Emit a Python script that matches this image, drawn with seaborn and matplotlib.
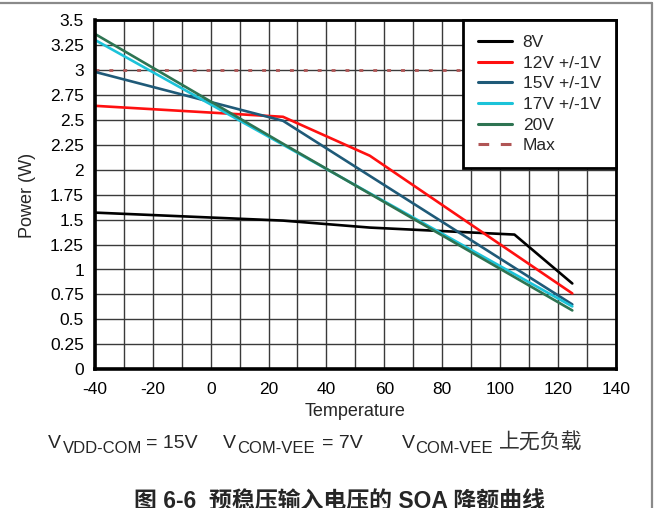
import matplotlib
matplotlib.use("Agg")
import matplotlib.pyplot as plt
import seaborn as sns
from matplotlib.lines import Line2D
from matplotlib.ticker import MultipleLocator, FuncFormatter

# Derating curves: junction temperature (°C) vs. allowed power (W)
temp_8v = [-40, 25, 55, 105, 125]
power_8v = [1.57, 1.49, 1.42, 1.35, 0.86]

temp_12v = [-40, 25, 55, 125]
power_12v = [2.64, 2.53, 2.14, 0.76]

temp_15v = [-40, 25, 125]
power_15v = [2.98, 2.49, 0.65]

temp_17v = [-40, 25, 125]
power_17v = [3.30, 2.25, 0.63]

temp_20v = [-40, 25, 125]
power_20v = [3.36, 2.26, 0.59]

max_temp = [-40, 140]
max_power = [3.0, 3.0]

series_labels = ["8V", "12V +/-1V", "15V +/-1V", "17V +/-1V", "20V", "Max"]
series_colors = ["#000000", "#ff1010", "#1f5a78", "#1cc3d9", "#2e7452", "#b05555"]

x_ticks = [-40, -20, 0, 20, 40, 60, 80, 100, 120, 140]

sns.set_style("white")
plt.rcParams["font.family"] = ["Liberation Sans", "Noto Sans CJK SC"]
plt.rcParams["axes.unicode_minus"] = False

W, H = 660, 508
fig = plt.figure(figsize=(W / 100, H / 100), dpi=100)


def fx(px):
    return px / W


def fy(py):
    return 1 - py / H


ax_l, ax_r, ax_t, ax_b = 95, 615.7, 20, 369.3
ax = fig.add_axes([fx(ax_l), fy(ax_b), (ax_r - ax_l) / W, (ax_b - ax_t) / H])

lw = 1.9
sns.lineplot(x=max_temp, y=max_power, ax=ax, color=series_colors[5], lw=2.0,
             linestyle=(0, (1.4, 3.6)), zorder=3)
series = [
    (temp_8v, power_8v),
    (temp_12v, power_12v),
    (temp_15v, power_15v),
    (temp_17v, power_17v),
    (temp_20v, power_20v),
]
for (t, p), c in zip(series, series_colors[:5]):
    sns.lineplot(x=t, y=p, ax=ax, color=c, lw=lw, zorder=4)

ax.set_xlim(-40, 140)
ax.set_ylim(0, 3.5)
ax.set_xticks(x_ticks)
ax.xaxis.set_minor_locator(MultipleLocator(10))
ax.yaxis.set_major_locator(MultipleLocator(0.25))
ax.yaxis.set_major_formatter(FuncFormatter(lambda v, _: f"{v:g}"))
ax.grid(True, which="both", color="#3a3a3a", lw=1.0)
ax.set_axisbelow(True)
ax.tick_params(which="both", length=0, labelsize=12.5, colors="black")
ax.tick_params(axis="y", pad=8)
ax.tick_params(axis="x", pad=9)
for side in ["left", "bottom"]:
    ax.spines[side].set_linewidth(2.6)
for side in ["right", "top"]:
    ax.spines[side].set_linewidth(2.0)
for s in ax.spines.values():
    s.set_color("black")
    s.set_visible(True)
    s.set_zorder(6)

handles = [Line2D([], [], color=c, lw=2.2) for c in series_colors[:5]]
handles.append(Line2D([], [], color=series_colors[5], lw=2.2, dashes=(3.5, 3.8)))
leg = ax.legend(handles, series_labels, loc="upper right", fontsize=12.5,
                frameon=True, fancybox=False, framealpha=1, edgecolor="black",
                borderaxespad=0, borderpad=0.85, labelspacing=0.32,
                handlelength=2.0, handletextpad=0.6)
leg.get_frame().set_linewidth(2.0)
leg.set_zorder(7)

fig.text(fx(28), fy(195), "Power (W)", rotation=90, ha="center", va="center", fontsize=13)
fig.text(fx(355), fy(411), "Temperature", ha="center", va="center", fontsize=13)

# operating conditions line, with subscripts set as separate smaller text
base_y = 448
sub_y = 453
main_size = 14
sub_size = 12
fig.text(fx(48), fy(base_y), "V", va="baseline", fontsize=main_size)
fig.text(fx(62.5), fy(sub_y), "VDD-COM", va="baseline", fontsize=sub_size)
fig.text(fx(146.5), fy(base_y), "= 15V", va="baseline", fontsize=main_size)

fig.text(fx(223), fy(base_y), "V", va="baseline", fontsize=main_size)
fig.text(fx(237), fy(sub_y), "COM-VEE", va="baseline", fontsize=sub_size)
fig.text(fx(321.5), fy(base_y), "= 7V", va="baseline", fontsize=main_size)

fig.text(fx(401.5), fy(base_y), "V", va="baseline", fontsize=main_size)
fig.text(fx(415.5), fy(sub_y), "COM-VEE", va="baseline", fontsize=sub_size)
fig.text(fx(499), fy(base_y + 1), "上无负载", va="baseline", fontsize=15,
         family=["Noto Sans CJK SC"], weight="light", color="#333333")

fig.text(fx(339), fy(502), "图 6-6  预稳压输入电压的 SOA 降额曲线", ha="center", va="center",
         fontsize=16.5, weight="bold", family=["Liberation Sans", "Noto Sans CJK SC"])

# page frame lines
fig.add_artist(Line2D([0, fx(652)], [fy(2.5), fy(2.5)], transform=fig.transFigure,
                      color="#8a8a8a", lw=1.6))
fig.add_artist(Line2D([fx(652), fx(652)], [fy(2.5), 0], transform=fig.transFigure,
                      color="#8a8a8a", lw=1.6))

fig.savefig("out.png", dpi=100)
